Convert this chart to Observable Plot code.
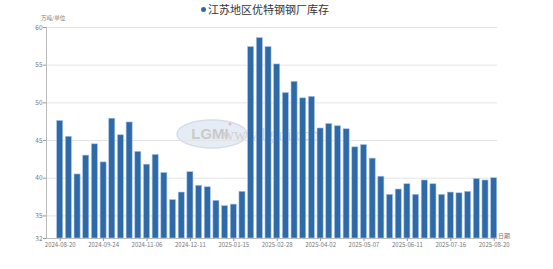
<!DOCTYPE html>
<html><head><meta charset="utf-8">
<script src="https://cdn.jsdelivr.net/npm/d3@7"></script>
<script src="https://cdn.jsdelivr.net/npm/@observablehq/plot@0.6"></script>
<style>
body{margin:0;background:#fff;width:553px;height:269px;overflow:hidden;font-family:"Noto Sans CJK SC","Noto Sans",sans-serif;}
#title{height:20px;position:relative;}
#title span{position:absolute;left:208px;top:2px;font-size:11px;color:#333;line-height:14px;white-space:nowrap;}
#title i{position:absolute;left:201px;top:7px;width:5px;height:5px;border-radius:50%;background:#2e6aa8;}
#title b{position:absolute;left:41px;top:15px;font-size:5.5px;line-height:6px;font-weight:normal;color:#777;white-space:nowrap;}
</style></head><body>
<div id="title"><i></i><span>江苏地区优特钢钢厂库存</span><b>万吨/单位</b></div>
<div id="chart"></div>
<script>
const dates = ["2024-08-20","2024-08-27","2024-09-03","2024-09-10","2024-09-18","2024-09-24","2024-10-09","2024-10-16","2024-10-23","2024-10-30","2024-11-06","2024-11-13","2024-11-20","2024-11-27","2024-12-04","2024-12-11","2024-12-18","2024-12-25","2025-01-02","2025-01-08","2025-01-15","2025-01-22","2025-02-07","2025-02-14","2025-02-21","2025-02-28","2025-03-06","2025-03-12","2025-03-19","2025-03-26","2025-04-02","2025-04-09","2025-04-16","2025-04-23","2025-04-30","2025-05-07","2025-05-14","2025-05-21","2025-05-28","2025-06-04","2025-06-11","2025-06-18","2025-06-25","2025-07-02","2025-07-09","2025-07-16","2025-07-23","2025-07-30","2025-08-06","2025-08-13","2025-08-20"];
const values = [47.6,45.5,40.5,43.0,44.5,42.1,47.9,45.7,47.4,43.5,41.8,43.1,40.7,37.1,38.1,40.8,39.0,38.8,37.0,36.3,36.5,38.2,57.4,58.6,57.4,55.1,51.3,52.8,50.6,50.8,46.6,47.2,46.9,46.5,44.1,44.4,42.6,40.2,37.8,38.5,39.2,37.8,39.7,39.2,37.8,38.1,38.0,38.2,39.9,39.7,40.0];
const yTicks = [32,35,40,45,50,55,60];
const xTicks = dates.filter((d,i)=>i%5===0);
const data = dates.map((d,i)=>({date:d,value:values[i]}));

const chart = Plot.plot({
  width:553, height:249,
  marginLeft:46, marginRight:56, marginTop:7, marginBottom:31,
  style:{fontFamily:"'Noto Sans CJK SC','Noto Sans',sans-serif", fontSize:"6px", color:"#666", background:"transparent"},
  x:{type:"band", domain:dates, range:[55.8,497.6], paddingInner:0.3, paddingOuter:0.1, label:null},
  y:{domain:[32,60], label:null},
  marks:[
    Plot.gridY([35,40,45,50,55,60], {stroke:"#e4e4e4", strokeOpacity:1}),
    Plot.ruleY([32], {stroke:"#bbb"}),
    Plot.frame({anchor:"left", stroke:"#bbb"}),
    Plot.barY(data, {x:"date", y1:32, y2:"value", fill:"#2e6aa8", stroke:"#a9c5e3", strokeWidth:0.6}),
    Plot.axisY(yTicks, {tickSize:3, tickPadding:1, stroke:"#999", fill:"#777", fontSize:6.5}),
    Plot.axisX(xTicks, {tickSize:3, tickPadding:1, stroke:"#999", fill:"#777", fontSize:6})
  ]
});
document.getElementById("chart").appendChild(chart);

// annotations: x-axis name, watermark
const svg = d3.select(chart);
svg.append("text").attr("x",504).attr("y",218).attr("font-size",6).attr("fill","#777").text("日期");
const wm = svg.insert("g", ":nth-child(2)").attr("opacity",0.45);
wm.append("ellipse").attr("cx",212).attr("cy",114).attr("rx",35).attr("ry",14).attr("fill","#c8d6ea").attr("stroke","#9fb5d6").attr("stroke-width",1.5);
wm.append("text").attr("x",210).attr("y",119).attr("text-anchor","middle").attr("font-size",15).attr("font-weight","bold").attr("fill","#8a8a8a").attr("font-family","Liberation Sans").text("LGMI");
wm.append("circle").attr("cx",230).attr("cy",104).attr("r",1.5).attr("fill","#e06060");
wm.append("text").attr("x",273).attr("y",120).attr("font-size",16.5).attr("fill","#999").attr("font-family","Liberation Serif").text("www.lgmi.com");
</script>
</body></html>
